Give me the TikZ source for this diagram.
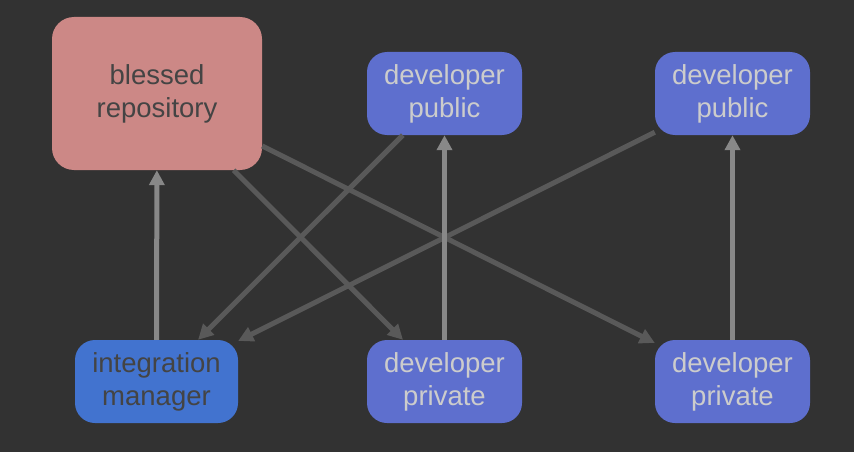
\documentclass[tikz,border=0pt]{standalone}
\usepackage{fontspec}
\setmainfont{Liberation Sans}
\usetikzlibrary{arrows.meta}
\definecolor{bg}{HTML}{323232}
\definecolor{blessedfill}{HTML}{CC8886}
\definecolor{devfill}{HTML}{5E6FCE}
\definecolor{intfill}{HTML}{4273CF}
\definecolor{darktext}{HTML}{444444}
\definecolor{lighttext}{HTML}{CCCCCC}
\definecolor{lightline}{HTML}{888888}
\definecolor{darkline}{HTML}{595959}
\tikzset{
  box/.style={rounded corners=20pt, inner sep=0pt, align=center,
    font=\fontsize{27.5}{33}\selectfont},
  devbox/.style={box, fill=devfill, text=lighttext, minimum width=155pt, minimum height=83pt},
  intbox/.style={box, fill=intfill, text=darktext, minimum width=163pt, minimum height=83pt},
  blessbox/.style={box, fill=blessedfill, text=darktext, minimum width=210pt, minimum height=153pt, rounded corners=22pt},
  conn/.style={line width=5pt, -{Triangle[length=15pt,width=15pt]}},
  upconn/.style={conn, draw=lightline},
  crossconn/.style={conn, draw=darkline},
}
\begin{document}
\begin{tikzpicture}[x=1pt,y=-1pt]
\fill[bg] (0,0) rectangle (854,452);
\useasboundingbox (0,0) rectangle (854,452);
\node[blessbox] (bless) at (157,93.5) {blessed\\repository};
\node[devbox] (pub1) at (444.5,93.5) {developer\\public};
\node[devbox] (pub2) at (732.5,93.5) {developer\\public};
\node[intbox] (int) at (156.5,381.5) {integration\\manager};
\node[devbox] (priv1) at (444.5,381.5) {developer\\private};
\node[devbox] (priv2) at (732.5,381.5) {developer\\private};
\draw[crossconn] (bless) -- (priv1);
\draw[crossconn] (bless) -- (priv2);
\draw[crossconn] (pub1) -- (int);
\draw[crossconn] (pub2) -- (int);
\draw[upconn] (int) -- (bless);
\draw[upconn] (priv1) -- (pub1);
\draw[upconn] (priv2) -- (pub2);
\end{tikzpicture}
\end{document}
